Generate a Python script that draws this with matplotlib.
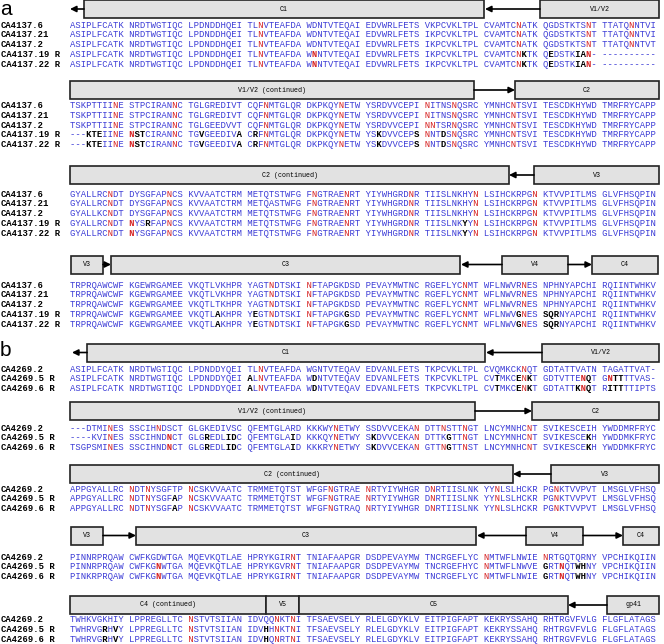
import matplotlib
matplotlib.use("Agg")
import matplotlib.pyplot as plt
from matplotlib.patches import Rectangle

# sequences: lowercase = red (glycosylation N), [..] = bold black change
names_a = ['CA4137.6', 'CA4137.21', 'CA4137.2', 'CA4137.19 R', 'CA4137.22 R']
names_b = ['CA4269.2', 'CA4269.5 R', 'CA4269.6 R']

block_a1 = [
    "ASIPLFCATK NRDTWGTIQC LPDNDDHQEI TLnVTEAFDA WDNTVTEQAI EDVWRLFETS VKPCVKLTPL CVAMTCnATK QGDSTKTSnT TTATQnNTVI",
    "ASIPLFCATK NRDTWGTIQC LPDNDDHQEI TLnVTEAFDA WDNTVTEQAI EDVWRLFETS IKPCVKLTPL CVAMTCnATK QGDSTKTSnT TTATQnNTVI",
    "ASIPLFCATK NRDTWGTIQC LPDNDDHQEI TLnVTEAFDA WDNTVTEQAI EDVWRLFETS IKPCVKLTPL CVAMTCnATK QGDSTKTSnT TTATQnNTVT",
    "ASIPLFCATK NRDTWGTIQC LPDNDDHQEI TLnVTEAFDA W[n]NTVTEQAI EDVWRLFETS IKPCVKLTPL CVAMTCn[K]TK Q[E]DSTK[IAn]- ----------",
    "ASIPLFCATK NRDTWGTIQC LPDNDDHQEI TLnVTEAFDA W[n]NTVTEQAI EDVWRLFETS IKPCVKLTPL CVAMTCn[K]TK Q[E]DSTK[IAn]- ----------",
]
block_a2 = [
    "TSKPTTIInE STPCIRANnC TGLGREDIVT CQFnMTGLQR DKPKQYnETW YSRDVVCEPI nITNSnQSRC YMNHCnTSVI TESCDKHYWD TMRFRYCAPP",
    "TSKPTTIInE STPCIRANnC TGLGREDIVT CQFnMTGLQR DKPKQYnETW YSRDVVCEPI nITNSnQSRC YMNHCnTSVI TESCDKHYWD TMRFRYCAPP",
    "TSKPTTIInE STPCIRANnC TGLGEEDVVT CQFnMTGLQR DKPKQYnETW YSRDVVCEPI nnTSRnQSRC YMNHCnTSVI TESCDKHYWD TMRFRYCAPP",
    "---[KTE]IInE [nST]CIRANnC TG[V]GEEDIV[A] C[R]FnMTGLQR DKPKQYnETW YS[K]DVVCEP[S] nNT[D]SnQSRC YMNHCnTSVI TESCDKHYWD TMRFRYCAPP",
    "---[KTE]IInE [nST]CIRANnC TG[V]GEEDIV[A] C[R]FnMTGLQR DKPKQYnETW YS[K]DVVCEP[S] nNT[D]SnQSRC YMNHCnTSVI TESCDKHYWD TMRFRYCAPP",
]
block_a3 = [
    "GYALLRCnDT DYSGFAPnCS KVVAATCTRM METQTSTWFG FnGTRAEnRT YIYWHGRDnR TIISLNKHYn LSIHCKRPGn KTVVPITLMS GLVFHSQPIN",
    "GYALLRCnDT DYSGFAPnCS KVVAATCTRM METQASTWFG FnGTRAEnRT YIYWHGRDnR TIISLNKHYn LSIHCKRPGn KTVVPITLMS GLVFHSQPIN",
    "GYALLKCnDT DYSGFAPnCS KVVAATCTRM METQTSTWFG FnGTRAEnRT YIYWHGRDnR TIISLNKHYn LSIHCKRPGn KTVVPITLMS GLVFHSQPIN",
    "GYALLRCnDT [n]YS[R]FAPnCS KVVAATCTRM METQTSTWFG FnGTRAEnRT YIYWHGRDnR TIISLNK[Y]Yn LSIHCKRPGn KTVVPITLMS GLVFHSQPIN",
    "GYALLRCnDT [n]YSGFAPnCS KVVAATCTRM METQTSTWFG FnGTRAEnRT YIYWHGRDnR TIISLNK[Y]Yn LSIHCKRPGn KTVVPITLMS GLVFHSQPIN",
]
block_a4 = [
    "TRPRQAWCWF KGEWRGAMEE VKQTLVKHPR YAGTnDTSKI nFTAPGKDSD PEVAYMWTNC RGEFLYCnMT WFLNWVRnES NPHNYAPCHI RQIINTWHKV",
    "TRPRQAWCWF KGEWRGAMEE VKQTLVKHPR YAGTnDTSKI nFTAPGKDSD PEVAYMWTNC RGEFLYCnMT WFLNWVRnES NPHNYAPCHI RQIINTWHKV",
    "TRPRQAWCWF KGEWRGAMEE VKQTLTKHPR YAGTnDTSKI nFTAPGKDSD PEVAYMWTNC RGEFLYCnMT WFLNWVRnES NPHNYAPCHI RQIINTWHKV",
    "TRPRQAWCWF KGEWRGAMEE VKQTL[A]KHPR Y[E]GTnDTSKI nFTAPGK[G]SD PEVAYMWTNC RGEFLYCnMT WFLNWV[G]nES [SQR]NYAPCHI RQIINTWHKV",
    "TRPRQAWCWF KGEWRGAMEE VKQTL[A]KHPR Y[E]GTnDTSKI nFTAPGK[G]SD PEVAYMWTNC RGEFLYCnMT WFLNWV[G]nES [SQR]NYAPCHI RQIINTWHKV",
]

block_b1 = [
    "ASIPLFCATK NRDTWGTIQC LPDNDDYQEI TLnVTEAFDA WGNTVTEQAV EDVANLFETS TKPCVKLTPL CVQMKCKnQT GDTATTVATN TAGATTVAT-",
    "ASIPLFCATK NRDTWGTIQC LPDNDDYQEI [A]LnVTEAFDA W[D]NTVTEQAV EDVANLFETS TKPCVKLTPL CV[T]MKC[E]n[K]T GDTVTTE[nQ]T G[n][TT]TTVAS-",
    "ASIPLFCATK NRDTWGTIQC LPDNDDYQEI [A]LnVTEAFDA W[D]NTVTEQAV EDVANLFETS TKPCVKLTPL CV[T]MKC[E]n[K]T GDTATT[KnQ]T R[ITT]TTIPTS",
]
block_b2 = [
    "---DTMInES SSCIHnDSCT GLGKEDIVSC QFEMTGLARD KKKWYnETWY SSDVVCEKAn DTTnSTTnGT LNCYMNHCnT SVIKESCEIH YWDDMRFRYC",
    "----KVInES SSCIHND[n]CT GLG[R]EDL[ID]C QFEMTGLA[I]D KKKQYnETWY S[K]DVVCEKAn DTTK[G]TTnGT LNCYMNHCnT SVIKESCE[K]H YWDDMKFRYC",
    "TSGPSMInES SSCIHND[n]CT GLG[R]EDL[ID]C QFEMTGLA[I]D KKKRYnETWY S[K]DVVCEKAn GTTn[G]TTnST LNCYMNHCnT SVIKESCE[K]H YWDDMKFRYC",
]
block_b3 = [
    "APPGYALLRC nDTnYSGFTP nCSKVVAATC TRMMETQTST WFGFnGTRAE nRTYIYWHGR DnRTIISLNK YYnLSLHCKR PGnKTVVPVT LMSGLVFHSQ",
    "APPGYALLRC nDTnYSGF[A]P nCSKVVAATC TRMMETQTST WFGFnGTRAE nRTYIYWHGR DnRTIISLNK YYnLSLHCKR PGnKTVVPVT LMSGLVFHSQ",
    "APPGYALLRC nDTnYSGF[A]P nCSKVVAATC TRMMETQTST WFGFnGTRAQ nRTYIYWHGR DnRTIISLNK YYnLSLHCKR PGnKTVVPVT LMSGLVFHSQ",
]
block_b4 = [
    "PINNRPRQAW CWFKGDWTGA MQEVKQTLAE HPRYKGIRnT TNIAFAAPGR DSDPEVAYMW TNCRGEFLYC nMTWFLNWIE nRTGQTQRNY VPCHIKQIIN",
    "PINNRPRQAW CWFKG[n]WTGA MQEVKQTLAE HPRYKGVRnT TNIAFAAPGR DSDPEVAYMW TNCRGEFHYC nMTWFLNWVE [G]RT[n]QT[WH]NY VPCHIKQIIN",
    "PINKRPRQAW CWFKG[n]WTGA MQEVKQTLAE HPRYKGIRnT TNIAFAAPGR DSDPEVAYMW TNCRGEFLYC nMTWFLNWIE [G]RT[n]QT[WH]NY VPCHIKQIIN",
]
block_b5 = [
    "TWHKVGKHIY LPPREGLLTC nSTVTSIIAN IDVQQnKTnI TFSAEVSELY RLELGDYKLV EITPIGFAPT KEKRYSSAHQ RHTRGVFVLG FLGFLATAGS",
    "TWHRVG[R]H[V]Y LPPREGLLTC nSTVTSIIAN IDV[H]HnKTnI TFSAEVSELY RLELGDYKLV EITPIGFAPT KEKRYSSAHQ RHTRGVFVLG FLGFLATAGS",
    "TWHRVG[R]H[V]Y LPPREGLLTC nSTVTSIIAN IDV[H]QnRTnI TFSAEVSELY RLELGDYKLV EITPIGFAPT KEKRYSSAHQ RHTRGVFVLG FLGFLATAGS",
]

# region bars above each block: ('box', x0, x1, label) / ('arrow', tail, tip)
regions_a = [
    [('arrow', 84, 70), ('box', 84, 484, 'C1'), ('arrow', 540, 485), ('box', 540, 659, 'V1/V2')],
    [('box', 70, 474, 'V1/V2 (continued)'), ('arrow', 474, 515), ('box', 515, 659, 'C2')],
    [('box', 70, 509, 'C2 (continued)'), ('arrow', 534, 509), ('box', 534, 659, 'V3')],
    [('box', 71, 103, 'V3'), ('arrow', 103, 111), ('box', 111, 460, 'C3'), ('arrow', 502, 461),
     ('box', 502, 568, 'V4'), ('arrow', 568, 592), ('box', 592, 658, 'C4')],
]
regions_b = [
    [('arrow', 87, 72), ('box', 87, 485, 'C1'), ('arrow', 542, 486), ('box', 542, 659, 'V1/V2')],
    [('box', 70, 475, 'V1/V2 (continued)'), ('arrow', 475, 532), ('box', 532, 659, 'C2')],
    [('box', 70, 513, 'C2 (continued)'), ('arrow', 551, 513), ('box', 551, 659, 'V3')],
    [('box', 71, 103, 'V3'), ('arrow', 103, 136), ('box', 136, 476, 'C3'), ('arrow', 526, 477),
     ('box', 526, 583, 'V4'), ('arrow', 583, 623), ('box', 623, 659, 'C4')],
    [('box', 70, 266, 'C4 (continued)'), ('box', 266, 299, 'V5'), ('box', 299, 568, 'C5'),
     ('arrow', 607, 568), ('box', 607, 659, 'gp41')],
]

# layout (pixels, y grows down)
W, H = 664, 644
NAME_X, SEQ_X = 1, 70
ROW_DY = 9.8
BOX_H = 18
box_y_a = [9, 90, 175, 264.5]
row_y_a = [25, 105.5, 194, 285]
box_y_b = [352.5, 411, 474, 535.5, 605]
row_y_b = [369, 428, 489, 557, 620]

MONO = 'Liberation Mono'
FS = 6.43
BLUE = '#3b3bd6'
RED = '#d62222'

fig = plt.figure(figsize=(W / 100, H / 100), dpi=100)
ax = fig.add_axes([0, 0, 1, 1])
ax.set_xlim(0, W)
ax.set_ylim(H, 0)
ax.axis('off')


def parse(seq):
    cells = []
    bold = False
    for ch in seq:
        if ch == '[':
            bold = True
            continue
        if ch == ']':
            bold = False
            continue
        if ch.islower():
            cells.append((ch.upper(), 'rb' if bold else 'r'))
        elif bold:
            cells.append((ch, 'k'))
        else:
            cells.append((ch, 'b'))
    return cells


layers = [('b', BLUE, 'normal'), ('r', RED, 'normal'), ('rb', RED, 'bold'), ('k', 'black', 'bold')]


def draw_row(y, name, seq):
    ax.text(NAME_X, y, name, family=MONO, weight='bold', fontsize=FS, va='center', ha='left')
    cells = parse(seq)
    for style, color, weight in layers:
        s = ''.join(c if st == style else ' ' for c, st in cells)
        if s.strip():
            ax.text(SEQ_X, y, s, family=MONO, weight=weight, color=color,
                    fontsize=FS, va='center', ha='left')


def draw_regions(y, items):
    for it in items:
        if it[0] == 'box':
            _, x0, x1, label = it
            ax.add_patch(Rectangle((x0, y - BOX_H / 2), x1 - x0, BOX_H,
                                   facecolor='#e2e2e2', edgecolor='#222222', lw=1.2))
            ax.text((x0 + x1) / 2, y, label, family=MONO, fontsize=4.8,
                    ha='center', va='center')
        else:
            _, tail, tip = it
            ax.annotate('', xy=(tip, y), xytext=(tail, y),
                        arrowprops=dict(arrowstyle='-|>', color='black', lw=1.2,
                                        mutation_scale=9, shrinkA=0, shrinkB=0))


blocks_a = [block_a1, block_a2, block_a3, block_a4]
blocks_b = [block_b1, block_b2, block_b3, block_b4, block_b5]

for by, ry, regs, block in zip(box_y_a, row_y_a, regions_a, blocks_a):
    draw_regions(by, regs)
    for i, (name, seq) in enumerate(zip(names_a, block)):
        draw_row(ry + i * ROW_DY, name, seq)

for by, ry, regs, block in zip(box_y_b, row_y_b, regions_b, blocks_b):
    draw_regions(by, regs)
    for i, (name, seq) in enumerate(zip(names_b, block)):
        draw_row(ry + i * ROW_DY, name, seq)

ax.text(0, 9, 'a', family='Liberation Sans', fontsize=15, va='center', ha='left')
ax.text(0, 350, 'b', family='Liberation Sans', fontsize=15, va='center', ha='left')

fig.savefig('out.png', dpi=100)
